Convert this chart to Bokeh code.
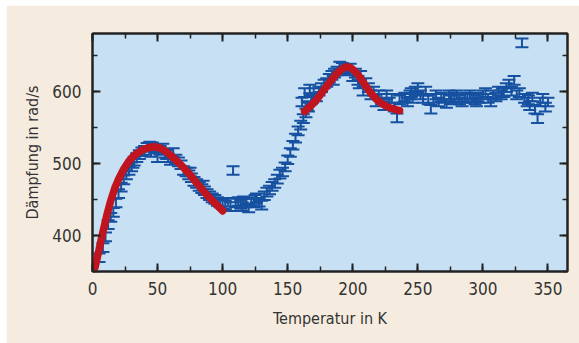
from bokeh.plotting import figure
from bokeh.models import (ColumnDataSource, Whisker, TeeHead, LinearAxis, SingleIntervalTicker,
                          Range1d, Spacer, CustomJSTickFormatter)
from bokeh.layouts import column, row
from bokeh.embed import file_html
from bokeh.resources import INLINE

# measured damping (rad/s) vs temperature (K)
temp = [5, 8, 10, 12, 14, 16, 18, 20, 22, 24, 26, 28, 30, 32, 34, 36, 38, 40, 42, 44,
        46, 48, 50, 52, 54, 56, 58, 60, 62, 64, 66, 68, 70, 72, 74, 76, 78, 80, 82, 84,
        86, 88, 90, 92, 94, 96, 98, 100, 102, 104, 106, 108, 110, 112, 114, 116, 118, 120, 122, 124,
        126, 128, 130, 132, 134, 136, 138, 140, 142, 144, 146, 148, 150, 152, 154, 156, 158, 160, 162, 164,
        166, 168, 170, 172, 174, 176, 178, 180, 182, 184, 186, 188, 190, 192, 194, 196, 198, 200, 202, 204,
        206, 208, 210, 212, 214, 216, 218, 220, 222, 224, 226, 228, 230, 232, 234, 236, 238, 240, 242, 244,
        246, 248, 250, 252, 254, 256, 258, 260, 262, 264, 266, 268, 270, 272, 274, 276, 278, 280, 282, 284,
        286, 288, 290, 292, 294, 296, 298, 300, 302, 304, 306, 308, 310, 312, 314, 316, 318, 320, 322, 324,
        326, 328, 330, 332, 334, 336, 338, 340, 342, 344, 346, 348, 350,
        161, 163, 165, 167, 169, 31, 45, 57, 75, 85, 115, 125, 185, 205, 245, 275, 295, 315, 335]
damp = [369, 383, 398, 415, 425, 432, 445, 458, 467, 477, 484, 490, 495, 503, 508, 512, 516, 518, 522, 524,
        523, 520, 508, 518, 521, 514, 508, 504, 515, 506, 502, 498, 490, 488, 484, 480, 475, 472, 468, 465,
        462, 458, 455, 452, 450, 447, 445, 443, 442, 446, 440, 490, 445, 447, 443, 448, 445, 438, 447, 445,
        452, 446, 442, 455, 460, 463, 468, 472, 478, 485, 488, 495, 505, 515, 525, 535, 545, 553, 562, 570,
        578, 588, 598, 592, 600, 605, 610, 612, 618, 622, 625, 628, 635, 633, 630, 628, 632, 620, 625, 615,
        622, 600, 612, 605, 595, 600, 585, 595, 590, 580, 595, 585, 590, 578, 563, 588, 590, 592, 585, 595,
        590, 600, 605, 595, 590, 600, 588, 575, 590, 595, 585, 592, 590, 583, 595, 590, 592, 595, 588, 585,
        590, 592, 595, 590, 588, 592, 590, 595, 598, 590, 585, 595, 592, 600, 595, 598, 605, 610, 600, 615,
        595, 598, 667, 590, 585, 580, 592, 575, 562, 585, 590, 578, 585,
        585, 598, 580, 603, 590, 500, 515, 512, 488, 470, 440, 450, 615, 610, 598, 588, 585, 598, 588]
err = 6

# fitted curves
fit1_t = [2, 5, 8, 11, 14, 17, 20, 24, 28, 32, 36, 40, 44, 48, 52, 56, 60, 65, 70, 75, 80, 85, 90, 95, 100]
fit1_d = [356, 380, 405, 428, 448, 465, 478, 492, 503, 511, 516, 520, 522, 523, 521, 517, 511, 503, 494, 484, 473, 462, 452, 443, 434]
fit2_t = [163, 168, 173, 178, 183, 188, 192, 195, 198, 202, 206, 210, 214, 218, 222, 226, 230, 236]
fit2_d = [572, 580, 590, 602, 614, 625, 631, 634, 633, 627, 618, 607, 597, 589, 583, 579, 576, 573]

FONT = "DejaVu Sans Condensed, sans-serif"
BLUE = "#1650a0"
RED = "#c0141e"

p = figure(width=573, height=338, output_backend="svg", toolbar_location=None,
           x_range=Range1d(0, 365), y_range=Range1d(350, 680),
           background_fill_color="#c8e0f3", border_fill_color="#f5ecdf",
           min_border_left=86, min_border_right=12, min_border_top=28, min_border_bottom=72)
p.outline_line_color = "#222222"
p.outline_line_width = 2
p.grid.visible = False

src = ColumnDataSource(dict(x=temp, y=damp, lo=[d - err for d in damp], hi=[d + err for d in damp]))
w = Whisker(source=src, base="x", lower="lo", upper="hi", line_color=BLUE, line_width=2,
            lower_head=TeeHead(size=13, line_color=BLUE, line_width=2),
            upper_head=TeeHead(size=13, line_color=BLUE, line_width=2))
p.add_layout(w)

p.line(fit1_t, fit1_d, line_color=RED, line_width=7.5, line_cap="round")
p.line(fit2_t, fit2_d, line_color=RED, line_width=7.5, line_cap="round")

p.xaxis.ticker = SingleIntervalTicker(interval=50, num_minor_ticks=2)
p.yaxis.ticker = SingleIntervalTicker(interval=100, num_minor_ticks=2)

def style(ax):
    ax.axis_line_color = "#222222"
    ax.axis_line_width = 2
    ax.major_tick_in = 8
    ax.major_tick_out = 0
    ax.minor_tick_in = 5
    ax.minor_tick_out = 0
    ax.major_tick_line_color = "#222222"
    ax.major_tick_line_width = 2
    ax.minor_tick_line_color = "#222222"
    ax.minor_tick_line_width = 1.5
    ax.major_label_text_font = FONT
    ax.major_label_text_font_size = "17px"
    ax.major_label_text_color = "#333333"
    ax.axis_label_text_font = FONT
    ax.axis_label_text_font_size = "16px"
    ax.axis_label_text_font_style = "normal"
    ax.axis_label_text_color = "#333333"

for ax in p.xaxis + p.yaxis:
    style(ax)
p.xaxis.axis_label = "Temperatur in K"
p.yaxis.axis_label = "Dämpfung in rad/s"
p.xaxis.major_label_standoff = 10
p.yaxis.major_label_standoff = 11
p.xaxis.axis_label_standoff = 11
p.yaxis.axis_label_standoff = 7

blank = CustomJSTickFormatter(code="return ''")
top = LinearAxis(ticker=SingleIntervalTicker(interval=50, num_minor_ticks=2), formatter=blank)
right = LinearAxis(ticker=SingleIntervalTicker(interval=100, num_minor_ticks=2), formatter=blank)
style(top)
style(right)
top.major_label_standoff = 0
right.major_label_standoff = 0
p.add_layout(top, "above")
p.add_layout(right, "right")

layout = column(Spacer(height=5), row(Spacer(width=6), p))
open("out.html", "w").write(file_html(layout, INLINE))
